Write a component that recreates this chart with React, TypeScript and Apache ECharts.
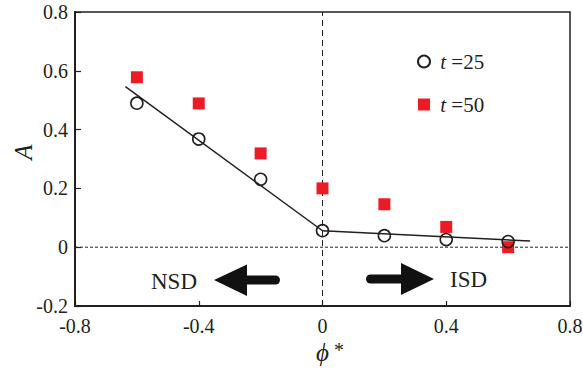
import React, { useEffect, useRef, useState } from "react";
import * as echarts from "echarts";

const phiValues = [-0.6, -0.4, -0.2, 0, 0.2, 0.4, 0.6];
const t25Values = [0.49, 0.368, 0.231, 0.056, 0.039, 0.026, 0.019];
const t50Values = [0.578, 0.489, 0.319, 0.2, 0.146, 0.069, 0.0];
const fitLeft = [[-0.637, 0.546], [0, 0.056]];
const fitRight = [[0, 0.056], [0.671, 0.021]];
const xTicks = { min: -0.8, max: 0.8, interval: 0.4 };
const yTicks = { min: -0.2, max: 0.8, interval: 0.2 };

const FONT = "Liberation Serif";
const TXT = "#231f20";
const RED = "#ed1c24";

function buildOption() {
  const t25 = phiValues.map((x, i) => [x, t25Values[i]]);
  const t50 = phiValues.map((x, i) => [x, t50Values[i]]);
  return {
    animation: false,
    backgroundColor: "#fff",
    grid: {
      left: 75, right: 13, top: 12, bottom: 62,
      show: true, borderColor: TXT, borderWidth: 1.5,
      outerBoundsMode: "none",
    },
    legend: {
      orient: "vertical", left: 412, top: 46, itemWidth: 12, itemHeight: 12, itemGap: 22,
      data: ["t25", "t50"],
      formatter: (name: string) => (name === "t25" ? "{n| }{i|t}{n| =25}" : "{n| }{i|t}{n| =50}"),
      textStyle: {
        fontFamily: FONT, fontSize: 21, color: TXT,
        rich: {
          i: { fontStyle: "italic", fontFamily: FONT, fontSize: 21, color: TXT },
          n: { fontFamily: FONT, fontSize: 21, color: TXT },
        },
      },
    },
    xAxis: {
      type: "value", min: xTicks.min, max: xTicks.max, interval: xTicks.interval,
      splitLine: { show: false },
      axisLine: { show: true, onZero: false, lineStyle: { color: TXT, width: 2 } },
      axisTick: { show: true, inside: true, length: 5, lineStyle: { color: TXT, width: 1.2 } },
      axisLabel: { fontFamily: FONT, fontSize: 20, color: TXT, margin: 10 },
    },
    yAxis: {
      type: "value", min: yTicks.min, max: yTicks.max, interval: yTicks.interval,
      splitLine: { show: false },
      axisLine: { show: true, onZero: false, lineStyle: { color: TXT, width: 2 } },
      axisTick: { show: true, inside: true, length: 6, lineStyle: { color: TXT, width: 1.2 } },
      axisLabel: { fontFamily: FONT, fontSize: 20, color: TXT, margin: 7 },
    },
    series: [
      { name: "zeroH", type: "line", data: [[xTicks.min, 0], [xTicks.max, 0]], symbol: "none",
        lineStyle: { color: TXT, width: 1, type: [3, 2] }, silent: true, z: 1 },
      { name: "zeroV", type: "line", data: [[0, yTicks.min], [0, yTicks.max]], symbol: "none",
        lineStyle: { color: TXT, width: 1, type: [6, 4] }, silent: true, z: 1 },
      { name: "fit1", type: "line", data: fitLeft, symbol: "none", lineStyle: { color: TXT, width: 1.5 }, z: 2 },
      { name: "fit2", type: "line", data: fitRight, symbol: "none", lineStyle: { color: TXT, width: 1.5 }, z: 2 },
      { name: "t50", type: "scatter", data: t50, symbol: "rect", symbolSize: 12, itemStyle: { color: RED, opacity: 1 }, z: 3 },
      { name: "t25", type: "scatter", data: t25, symbol: "circle", symbolSize: 12,
        itemStyle: { color: "rgba(255,255,255,0)", borderColor: TXT, borderWidth: 1.6, opacity: 1 }, z: 4 },
    ],
    graphic: [
      { type: "text", left: 151, top: 270, style: { text: "NSD", fontFamily: FONT, fontSize: 23, fill: TXT } },
      { type: "text", left: 450, top: 268, style: { text: "ISD", fontFamily: FONT, fontSize: 23, fill: TXT } },
      {
        type: "text", x: 23, y: 152, rotation: Math.PI / 2,
        style: { text: "A", fontFamily: FONT, fontStyle: "italic", fontSize: 25, fill: TXT, align: "center", verticalAlign: "middle" },
      },
      {
        type: "text", x: 330, y: 352,
        style: {
          text: "{i|ϕ}{n| *}", align: "center", verticalAlign: "middle",
          rich: {
            i: { fontStyle: "italic", fontFamily: FONT, fontSize: 25, fill: TXT },
            n: { fontFamily: FONT, fontSize: 20, fill: TXT, verticalAlign: "top" },
          },
        },
      },
      { type: "polygon", shape: { points: [[214, 280], [247, 264.5], [247, 296]] }, style: { fill: "#111" } },
      { type: "rect", shape: { x: 240, y: 275.5, width: 40, height: 9, r: 4.5 }, style: { fill: "#111" } },
      { type: "polygon", shape: { points: [[434, 279], [401, 263], [401, 295]] }, style: { fill: "#111" } },
      { type: "rect", shape: { x: 366, y: 274.5, width: 40, height: 9, r: 4.5 }, style: { fill: "#111" } },
    ],
  };
}

export default function App() {
  const ref = useRef<HTMLDivElement>(null);
  const chartRef = useRef<any>(null);
  const [ready, setReady] = useState(0);
  useEffect(() => {
    if (!ref.current) return;
    const chart = echarts.init(ref.current, null, { renderer: "svg" });
    chartRef.current = chart;
    chart.setOption(buildOption());
    setReady((r) => r + 1);
    return () => {
      chart.dispose();
      chartRef.current = null;
    };
  }, []);
  useEffect(() => {
    const chart = chartRef.current;
    if (!chart || !ready) return;
    chart.setOption(buildOption(), true);
    chart.resize();
  }, [ready]);
  return (
    <div style={{ fontFamily: FONT }}>
      <div ref={ref} style={{ position: "absolute", left: 0, top: 0, width: 583, height: 368 }} />
    </div>
  );
}
